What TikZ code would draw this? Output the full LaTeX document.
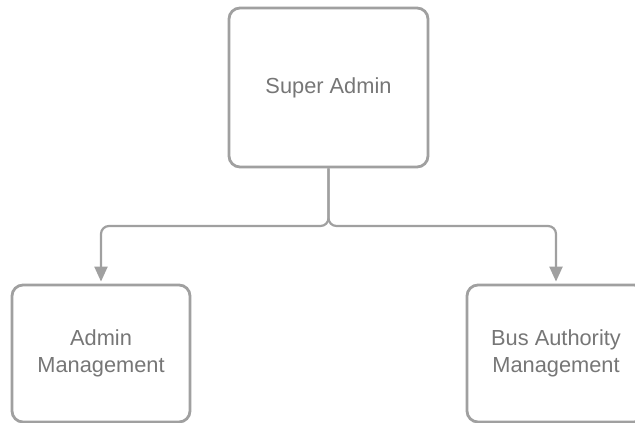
\documentclass[tikz,border=0pt]{standalone}
\usepackage{fontspec}
\setmainfont{Liberation Sans}
\usetikzlibrary{arrows.meta}
\definecolor{linegray}{HTML}{A0A0A0}
\definecolor{textgray}{HTML}{767676}
\begin{document}
\begin{tikzpicture}[x=1pt,y=-1pt,
  box/.style={draw=linegray,line width=2.8pt,rounded corners=11pt,inner sep=0pt,
    text=textgray,align=center,font=\fontsize{21.8}{27}\selectfont},
  conn/.style={draw=linegray,line width=2.2pt,rounded corners=8pt,
    -{Triangle[length=15pt,width=13pt]},shorten >=2pt}]
\useasboundingbox (0,0) rectangle (635,423);
\node [box,minimum width=199pt,minimum height=159pt] (super) at (328.5,87.5) {Super Admin};
\node [box,minimum width=178pt,minimum height=137pt] (admin) at (101,353.5) {Admin\\Management};
\node [box,minimum width=178pt,minimum height=137pt] (bus) at (556,353.5) {Bus Authority\\Management};
\coordinate (split) at (328.5,226);
\draw [conn] (super.south) -- (split) -| (admin.north);
\draw [conn] (super.south) -- (split) -| (bus.north);
\end{tikzpicture}
\end{document}
